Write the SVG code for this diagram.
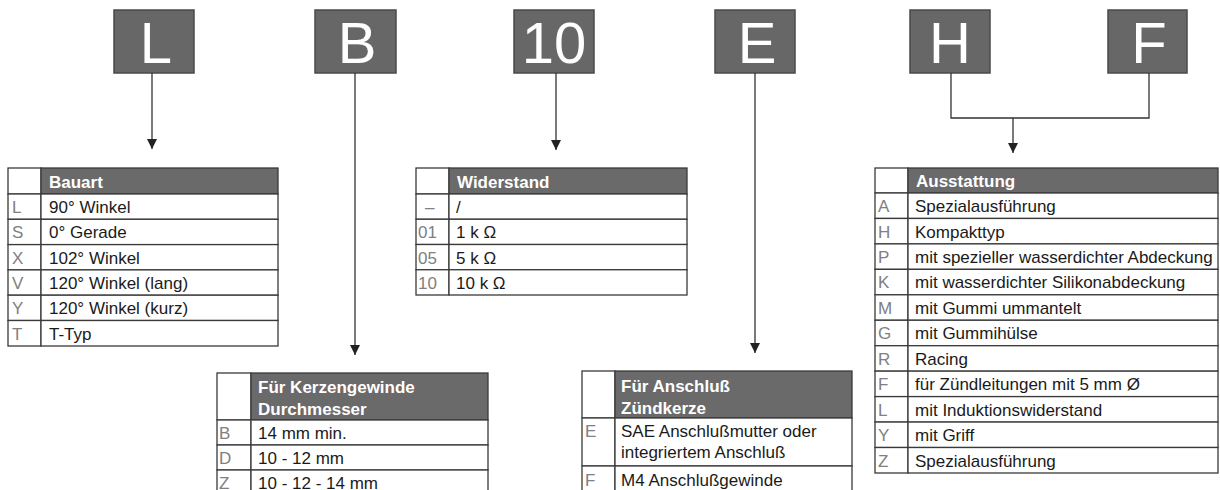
<svg xmlns="http://www.w3.org/2000/svg" width="1220" height="490" viewBox="0 0 1220 490">
<defs>
<style>
.box{fill:#676767;stroke:#4a4a4a;stroke-width:1.5}
.big{font-family:"Liberation Sans",Arial,sans-serif;font-size:58px;fill:#ffffff;text-anchor:middle}
.cell{fill:#ffffff;stroke:#3a3a3a;stroke-width:1.3}
.hdr{fill:#6a6a6a;stroke:#3a3a3a;stroke-width:1.3}
.ht{font-family:"Liberation Sans",Arial,sans-serif;font-size:17px;font-weight:bold;fill:#ffffff}
.t{font-family:"Liberation Sans",Arial,sans-serif;font-size:17px;fill:#1a1a1a}
.k{font-family:"Liberation Sans",Arial,sans-serif;font-size:17px;fill:#808080}
.ln{fill:none;stroke:#333333;stroke-width:1.3}
</style>
<marker id="ah" viewBox="0 0 10 10" refX="10" refY="5" markerWidth="10" markerHeight="10" markerUnits="userSpaceOnUse" orient="auto">
<path d="M0,0 L10,5 L0,10 Z" fill="#222222"/>
</marker>
</defs>
<rect width="1220" height="490" fill="#ffffff"/>

<g id="box-L"><rect class="box" x="114" y="10" width="80" height="63"/><text class="big" x="156" y="63">L</text></g>
<g id="box-B"><rect class="box" x="315" y="10" width="81" height="63"/><text class="big" x="357" y="63">B</text></g>
<g id="box-10"><rect class="box" x="514" y="10" width="80" height="63"/><text class="big" x="554" y="63">10</text></g>
<g id="box-E"><rect class="box" x="715" y="10" width="80" height="63"/><text class="big" x="757" y="63">E</text></g>
<g id="box-H"><rect class="box" x="910" y="10" width="80" height="63"/><text class="big" x="950" y="63">H</text></g>
<g id="box-F"><rect class="box" x="1108" y="10" width="79" height="63"/><text class="big" x="1149" y="63">F</text></g>

<g id="connectors">
<line class="ln" x1="152" y1="73" x2="152" y2="149" marker-end="url(#ah)"/>
<line class="ln" x1="355" y1="73" x2="355" y2="355" marker-end="url(#ah)"/>
<line class="ln" x1="556" y1="73" x2="556" y2="150" marker-end="url(#ah)"/>
<line class="ln" x1="755" y1="73" x2="755" y2="353" marker-end="url(#ah)"/>
<polyline class="ln" points="951,73 951,118 1149,118 1149,73"/>
<line class="ln" x1="1013" y1="118" x2="1013" y2="153" marker-end="url(#ah)"/>
</g>

<g id="table-bauart">
<rect class="cell" x="8" y="168" width="33" height="26"/>
<rect class="hdr" x="41" y="168" width="237" height="26"/>
<text class="ht" x="49" y="188">Bauart</text>
<rect class="cell" x="8" y="194" width="33" height="25.3"/><rect class="cell" x="41" y="194" width="237" height="25.3"/>
<rect class="cell" x="8" y="219.3" width="33" height="25.3"/><rect class="cell" x="41" y="219.3" width="237" height="25.3"/>
<rect class="cell" x="8" y="244.6" width="33" height="25.3"/><rect class="cell" x="41" y="244.6" width="237" height="25.3"/>
<rect class="cell" x="8" y="269.9" width="33" height="25.3"/><rect class="cell" x="41" y="269.9" width="237" height="25.3"/>
<rect class="cell" x="8" y="295.2" width="33" height="25.3"/><rect class="cell" x="41" y="295.2" width="237" height="25.3"/>
<rect class="cell" x="8" y="320.5" width="33" height="25.5"/><rect class="cell" x="41" y="320.5" width="237" height="25.5"/>
<text class="k" x="12" y="213">L</text><text class="t" x="49" y="213">90° Winkel</text>
<text class="k" x="12" y="238.3">S</text><text class="t" x="49" y="238.3">0° Gerade</text>
<text class="k" x="12" y="263.6">X</text><text class="t" x="49" y="263.6">102° Winkel</text>
<text class="k" x="12" y="288.9">V</text><text class="t" x="49" y="288.9">120° Winkel (lang)</text>
<text class="k" x="12" y="314.2">Y</text><text class="t" x="49" y="314.2">120° Winkel (kurz)</text>
<text class="k" x="12" y="339.5">T</text><text class="t" x="49" y="339.5">T-Typ</text>
</g>

<g id="table-widerstand">
<rect class="cell" x="416" y="168" width="33" height="26"/>
<rect class="hdr" x="449" y="168" width="238" height="26"/>
<text class="ht" x="457" y="188">Widerstand</text>
<rect class="cell" x="416" y="194" width="33" height="25.25"/><rect class="cell" x="449" y="194" width="238" height="25.25"/>
<rect class="cell" x="416" y="219.25" width="33" height="25.25"/><rect class="cell" x="449" y="219.25" width="238" height="25.25"/>
<rect class="cell" x="416" y="244.5" width="33" height="25.25"/><rect class="cell" x="449" y="244.5" width="238" height="25.25"/>
<rect class="cell" x="416" y="269.75" width="33" height="25.25"/><rect class="cell" x="449" y="269.75" width="238" height="25.25"/>
<text class="k" x="425" y="213">–</text><text class="t" x="456" y="213">/</text>
<text class="k" x="418" y="238.3">01</text><text class="t" x="456" y="238.3">1 k Ω</text>
<text class="k" x="418" y="263.5">05</text><text class="t" x="456" y="263.5">5 k Ω</text>
<text class="k" x="418" y="288.8">10</text><text class="t" x="456" y="288.8">10 k Ω</text>
</g>

<g id="table-ausstattung">
<rect class="cell" x="875" y="168" width="33" height="25"/>
<rect class="hdr" x="908" y="168" width="310" height="25"/>
<text class="ht" x="916" y="187">Ausstattung</text>
<rect class="cell" x="875" y="193" width="33" height="25.45"/><rect class="cell" x="908" y="193" width="310" height="25.45"/>
<rect class="cell" x="875" y="218.45" width="33" height="25.45"/><rect class="cell" x="908" y="218.45" width="310" height="25.45"/>
<rect class="cell" x="875" y="243.9" width="33" height="25.45"/><rect class="cell" x="908" y="243.9" width="310" height="25.45"/>
<rect class="cell" x="875" y="269.35" width="33" height="25.45"/><rect class="cell" x="908" y="269.35" width="310" height="25.45"/>
<rect class="cell" x="875" y="294.8" width="33" height="25.45"/><rect class="cell" x="908" y="294.8" width="310" height="25.45"/>
<rect class="cell" x="875" y="320.25" width="33" height="25.45"/><rect class="cell" x="908" y="320.25" width="310" height="25.45"/>
<rect class="cell" x="875" y="345.7" width="33" height="25.45"/><rect class="cell" x="908" y="345.7" width="310" height="25.45"/>
<rect class="cell" x="875" y="371.15" width="33" height="25.45"/><rect class="cell" x="908" y="371.15" width="310" height="25.45"/>
<rect class="cell" x="875" y="396.6" width="33" height="25.45"/><rect class="cell" x="908" y="396.6" width="310" height="25.45"/>
<rect class="cell" x="875" y="422.05" width="33" height="25.45"/><rect class="cell" x="908" y="422.05" width="310" height="25.45"/>
<rect class="cell" x="875" y="447.5" width="33" height="25.5"/><rect class="cell" x="908" y="447.5" width="310" height="25.5"/>
<text class="k" x="878" y="212">A</text><text class="t" x="915" y="212">Spezialausführung</text>
<text class="k" x="878" y="237.5">H</text><text class="t" x="915" y="237.5">Kompakttyp</text>
<text class="k" x="878" y="262.9">P</text><text class="t" x="915" y="262.9">mit spezieller wasserdichter Abdeckung</text>
<text class="k" x="878" y="288.4">K</text><text class="t" x="915" y="288.4">mit wasserdichter Silikonabdeckung</text>
<text class="k" x="878" y="313.8">M</text><text class="t" x="915" y="313.8">mit Gummi ummantelt</text>
<text class="k" x="878" y="339.3">G</text><text class="t" x="915" y="339.3">mit Gummihülse</text>
<text class="k" x="878" y="364.7">R</text><text class="t" x="915" y="364.7">Racing</text>
<text class="k" x="878" y="390.2">F</text><text class="t" x="915" y="390.2">für Zündleitungen mit 5 mm Ø</text>
<text class="k" x="878" y="415.6">L</text><text class="t" x="915" y="415.6">mit Induktionswiderstand</text>
<text class="k" x="878" y="441.1">Y</text><text class="t" x="915" y="441.1">mit Griff</text>
<text class="k" x="878" y="466.5">Z</text><text class="t" x="915" y="466.5">Spezialausführung</text>
</g>

<g id="table-gewinde">
<rect class="cell" x="217" y="373" width="34" height="47"/>
<rect class="hdr" x="251" y="373" width="237" height="47"/>
<text class="ht" x="258" y="393">Für Kerzengewinde</text>
<text class="ht" x="258" y="415">Durchmesser</text>
<rect class="cell" x="217" y="420" width="34" height="25"/><rect class="cell" x="251" y="420" width="237" height="25"/>
<rect class="cell" x="217" y="445" width="34" height="25"/><rect class="cell" x="251" y="445" width="237" height="25"/>
<rect class="cell" x="217" y="470" width="34" height="25"/><rect class="cell" x="251" y="470" width="237" height="25"/>
<text class="k" x="219" y="439">B</text><text class="t" x="258" y="439">14 mm min.</text>
<text class="k" x="219" y="464">D</text><text class="t" x="258" y="464">10 - 12 mm</text>
<text class="k" x="219" y="489">Z</text><text class="t" x="258" y="489">10 - 12 - 14 mm</text>
</g>

<g id="table-anschluss">
<rect class="cell" x="582" y="371" width="33" height="47"/>
<rect class="hdr" x="615" y="371" width="237" height="47"/>
<text class="ht" x="621" y="392">Für Anschluß</text>
<text class="ht" x="621" y="414">Zündkerze</text>
<rect class="cell" x="582" y="418" width="33" height="48"/><rect class="cell" x="615" y="418" width="237" height="48"/>
<rect class="cell" x="582" y="466" width="33" height="30"/><rect class="cell" x="615" y="466" width="237" height="30"/>
<text class="k" x="585" y="437">E</text><text class="t" x="621" y="437">SAE Anschlußmutter oder</text>
<text class="t" x="621" y="458">integriertem Anschluß</text>
<text class="k" x="585" y="486">F</text><text class="t" x="621" y="486">M4 Anschlußgewinde</text>
</g>
</svg>
